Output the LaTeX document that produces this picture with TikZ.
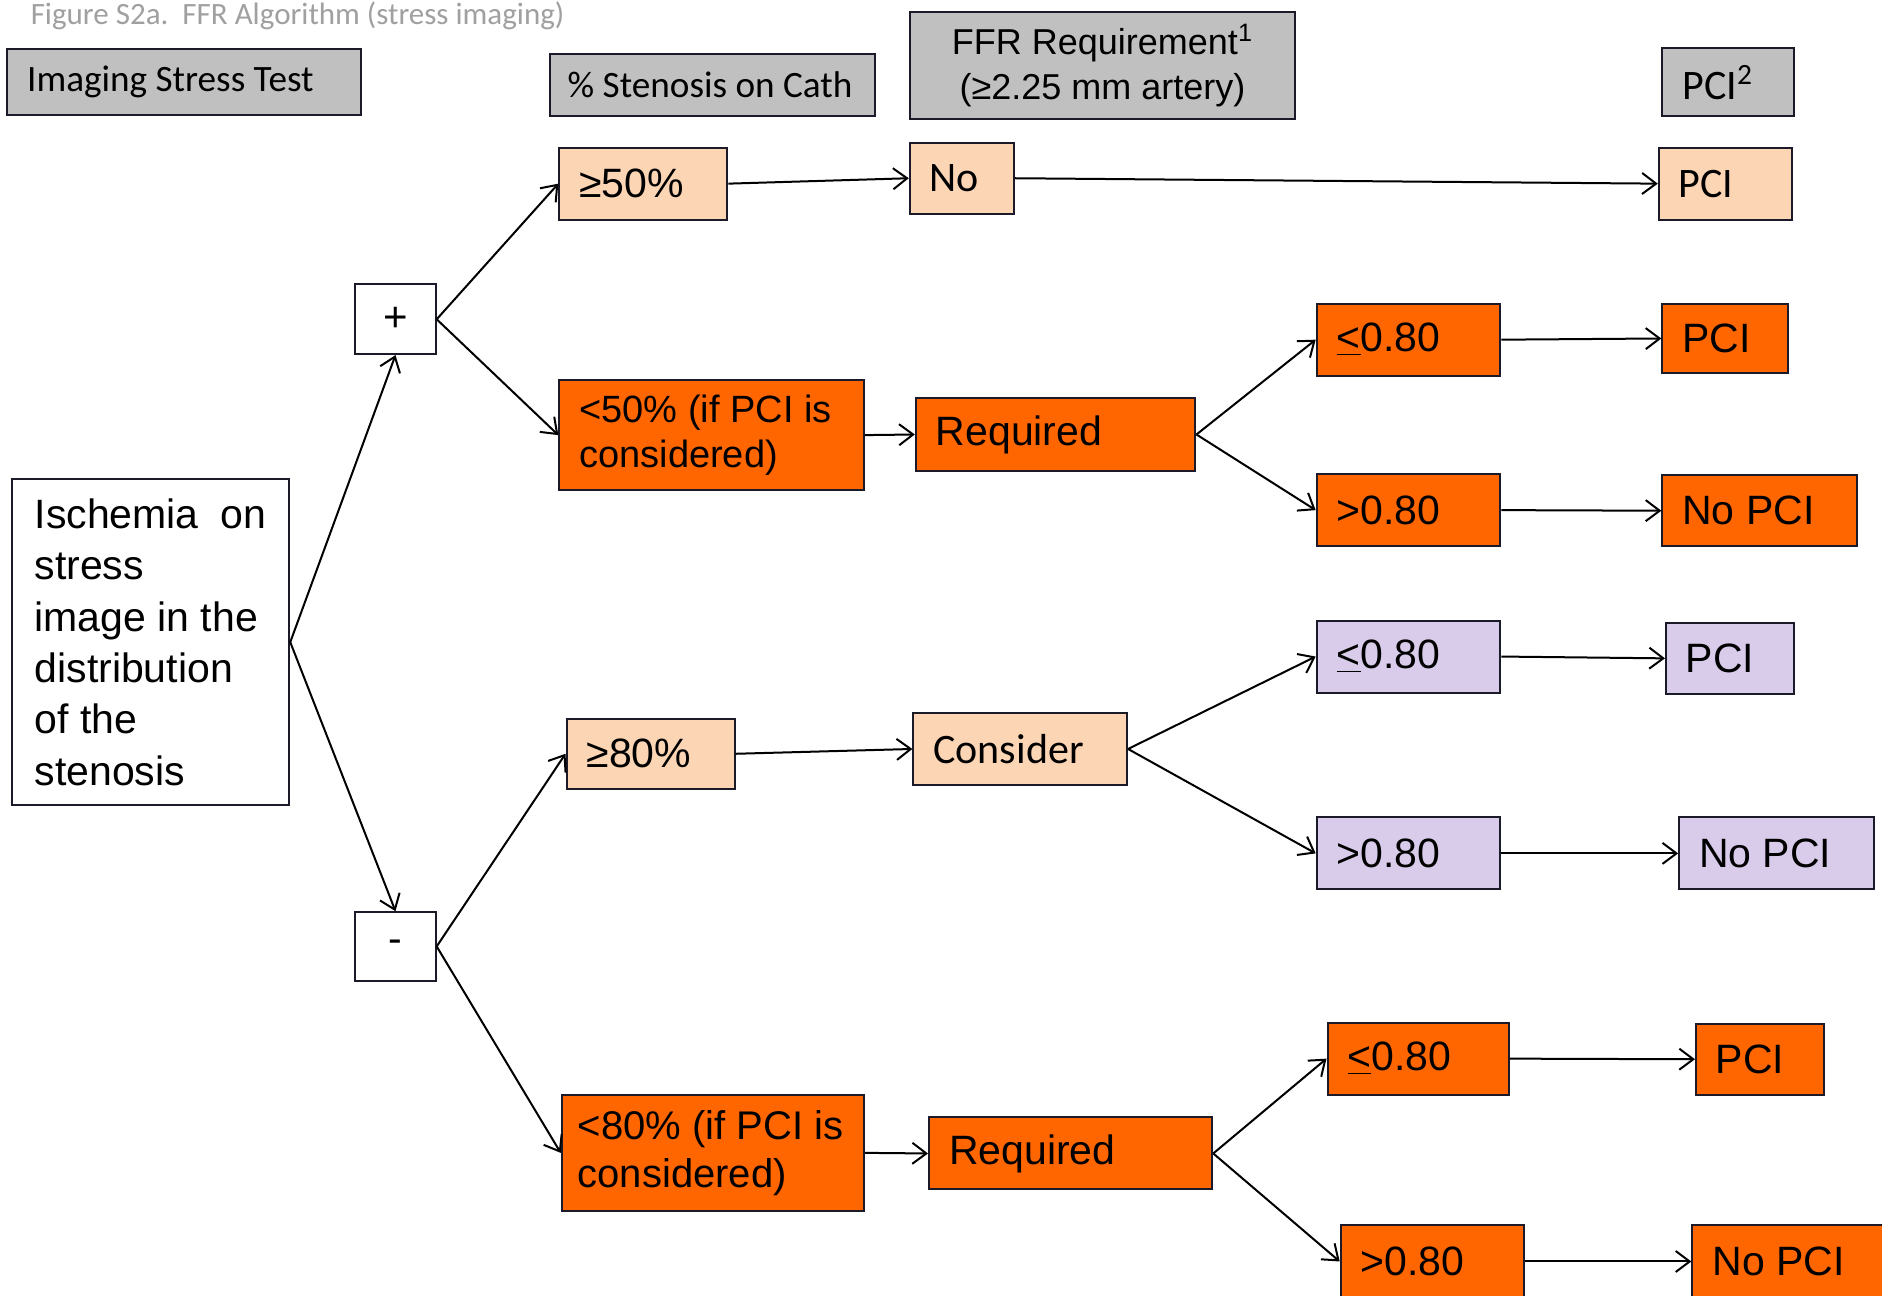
\documentclass[tikz,border=0pt]{standalone}
\usepackage{fontspec}
\setmainfont{Liberation Sans}
\newfontfamily\calibrifont{Carlito}
\usetikzlibrary{arrows.meta}

\definecolor{ffrorange}{RGB}{255,102,0}
\definecolor{ffrpeach}{RGB}{252,213,181}
\definecolor{ffrlilac}{RGB}{216,204,234}
\definecolor{ffrgray}{RGB}{192,192,192}
\definecolor{ffrline}{RGB}{26,26,40}
\definecolor{ffrtitle}{RGB}{160,160,160}

\newcommand\cellfont{\fontsize{20.5pt}{24pt}\selectfont}
\newcommand\calfont{\calibrifont\fontsize{21pt}{25pt}\selectfont}
\newcommand\headfont{\calibrifont\fontsize{18.6pt}{22pt}\selectfont}

\tikzset{every picture/.style={line width=0.75pt}}
\tikzset{
  cell/.style={draw=ffrline, line width=1pt, rectangle, inner xsep=10pt, inner ysep=0pt, align=flush left, font=\cellfont},
  orangecell/.style={cell, fill=ffrorange},
  peachcell/.style={cell, fill=ffrpeach},
  lilaccell/.style={cell, fill=ffrlilac},
  headcell/.style={cell, fill=ffrgray},
  signcell/.style={cell, fill=white, align=center, inner xsep=0pt},
  link/.style={->, line width=1pt, black}
}

\begin{document}
\begin{tikzpicture}[x=0.6pt,y=0.6pt,yscale=-1,xscale=1,>={Straight Barb[length=7pt,width=10.5pt]}]
		\path [use as bounding box, fill=white] (0,0) rectangle (1568,1079);
		
		%Text: title
		\node [font=\calibrifont\fontsize{15.5pt}{18pt}\selectfont, text=ffrtitle, anchor=base west, inner sep=0pt] (title) at (25,20) {Figure S2a.\ \ FFR Algorithm (stress imaging)};
		
		%Shape: Rectangle [headers]
		\node [headcell, font=\headfont, minimum width=177pt, minimum height=33pt, text width=157pt] (hdrtest) at (153.5,68.5) {Imaging Stress Test};
		\node [headcell, font=\headfont, inner xsep=9pt, minimum width=162.6pt, minimum height=31.2pt, text width=144.6pt] (hdrsten) at (593.5,71) {\% Stenosis on Cath};
		\node [headcell, align=center, inner xsep=0pt, font=\fontsize{18pt}{22.5pt}\selectfont, minimum width=192.6pt, minimum height=53.4pt] (hdrffr) at (918.5,54.5) {FFR Requirement\textsuperscript{1}\\(≥2.25 mm artery)};
		\node [headcell, font=\calfont, minimum width=66pt, minimum height=34.2pt, text width=46pt] (hdrpci) at (1440,68.5) {PCI\textsuperscript{2}};
		
		%Shape: Rectangle [ischemia]
		\node [cell, fill=white, inner xsep=11.3pt, minimum width=138.6pt, minimum height=163.2pt, text width=116pt, font=\fontsize{20.5pt}{25.7pt}\selectfont] (ischemia) at (125.5,535) {Ischemia\hfill on\\stress\\image in the\\distribution\\of the\\stenosis};
		\node [signcell, font=\fontsize{21pt}{25pt}\selectfont, minimum width=40.2pt, minimum height=34.8pt] (plus) at (329.5,266) {+};
		\node [signcell, minimum width=40.2pt, minimum height=34.2pt] (minus) at (329.5,788.5) {-};
		
		%Shape: Rectangle [stenosis]
		\node [peachcell, minimum width=84pt, minimum height=36pt, text width=64pt] (stenA) at (536,153) {≥50\%};
		\node [orangecell, font=\fontsize{19pt}{22.5pt}\selectfont, minimum width=152.4pt, minimum height=54.6pt, text width=132.4pt] (stenB) at (593,362.5) {<50\% (if PCI is\\considered)};
		\node [peachcell, minimum width=84pt, minimum height=34.8pt, text width=64pt] (stenC) at (542,628) {≥80\%};
		\node [orangecell, font=\fontsize{20pt}{24pt}\selectfont, inner xsep=8pt, minimum width=151.2pt, minimum height=58.2pt, text width=135.2pt] (stenD) at (594,960.5) {<80\% (if PCI is\\considered)};
		
		%Shape: Rectangle [ffr requirement]
		\node [peachcell, font=\calfont, minimum width=52.2pt, minimum height=35.4pt, text width=32.2pt] (ffrA) at (801.5,148.5) {No};
		\node [orangecell, minimum width=139.8pt, minimum height=36pt, text width=119.8pt] (ffrB) at (879.5,362) {Required};
		\node [peachcell, font=\calfont, minimum width=106.8pt, minimum height=36pt, text width=86.8pt] (ffrC) at (850,624) {Consider};
		\node [orangecell, minimum width=141.6pt, minimum height=36pt, text width=121.6pt] (ffrD) at (892,961) {Required};
		
		%Shape: Rectangle [ffr values]
		\node [orangecell, minimum width=91.8pt, minimum height=36pt, text width=71.8pt] (valBle) at (1173.5,283) {\underline{<}0.80};
		\node [orangecell, minimum width=91.8pt, minimum height=36pt, text width=71.8pt] (valBgt) at (1173.5,425) {>0.80};
		\node [lilaccell, minimum width=91.8pt, minimum height=36pt, text width=71.8pt] (valCle) at (1173.5,547) {\underline{<}0.80};
		\node [lilaccell, minimum width=91.8pt, minimum height=36pt, text width=71.8pt] (valCgt) at (1173.5,711) {>0.80};
		\node [orangecell, minimum width=90.6pt, minimum height=36pt, text width=70.6pt] (valDle) at (1181.5,882) {\underline{<}0.80};
		\node [orangecell, minimum width=91.8pt, minimum height=36pt, text width=71.8pt] (valDgt) at (1193.5,1051) {>0.80};
		
		%Shape: Rectangle [pci]
		\node [peachcell, font=\calfont, minimum width=66.6pt, minimum height=36pt, text width=46.6pt] (pciA) at (1437.5,153) {PCI};
		\node [orangecell, minimum width=63pt, minimum height=34.8pt, text width=43pt] (pciBle) at (1437.5,282) {PCI};
		\node [orangecell, minimum width=97.2pt, minimum height=35.4pt, text width=77.2pt] (pciBgt) at (1466,425.5) {No PCI};
		\node [lilaccell, minimum width=64.2pt, minimum height=35.4pt, text width=44.2pt] (pciCle) at (1441.5,548.5) {PCI};
		\node [lilaccell, minimum width=97.2pt, minimum height=36pt, text width=77.2pt] (pciCgt) at (1480,711) {No PCI};
		\node [orangecell, minimum width=64.2pt, minimum height=35.4pt, text width=44.2pt] (pciDle) at (1466.5,882.5) {PCI};
		\node [orangecell, minimum width=97.2pt, minimum height=36pt, text width=77.2pt] (pciDgt) at (1491,1051) {No PCI};
		
		%Connectors
		\draw [link] (ischemia.east) -- (plus.south) ;
		\draw [link] (ischemia.east) -- (minus.north) ;
		\draw [link] (plus.east) -- (stenA.west) ;
		\draw [link] (plus.east) -- (stenB.west) ;
		\draw [link] (minus.east) -- (stenC.west) ;
		\draw [link] (minus.east) -- (stenD.west) ;
		\draw [link] (stenA.east) -- (ffrA.west) ;
		\draw [link] (stenB.east) -- (ffrB.west) ;
		\draw [link] (stenC.east) -- (ffrC.west) ;
		\draw [link] (stenD.east) -- (ffrD.west) ;
		\draw [link] (ffrA.east) -- (pciA.west) ;
		\draw [link] (ffrB.east) -- (valBle.west) ;
		\draw [link] (ffrB.east) -- (valBgt.west) ;
		\draw [link] (ffrC.east) -- (valCle.west) ;
		\draw [link] (ffrC.east) -- (valCgt.west) ;
		\draw [link] (ffrD.east) -- (valDle.west) ;
		\draw [link] (ffrD.east) -- (valDgt.west) ;
		\draw [link] (valBle.east) -- (pciBle.west) ;
		\draw [link] (valBgt.east) -- (pciBgt.west) ;
		\draw [link] (valCle.east) -- (pciCle.west) ;
		\draw [link] (valCgt.east) -- (pciCgt.west) ;
		\draw [link] (valDle.east) -- (pciDle.west) ;
		\draw [link] (valDgt.east) -- (pciDgt.west) ;
		
\end{tikzpicture}
\end{document}
